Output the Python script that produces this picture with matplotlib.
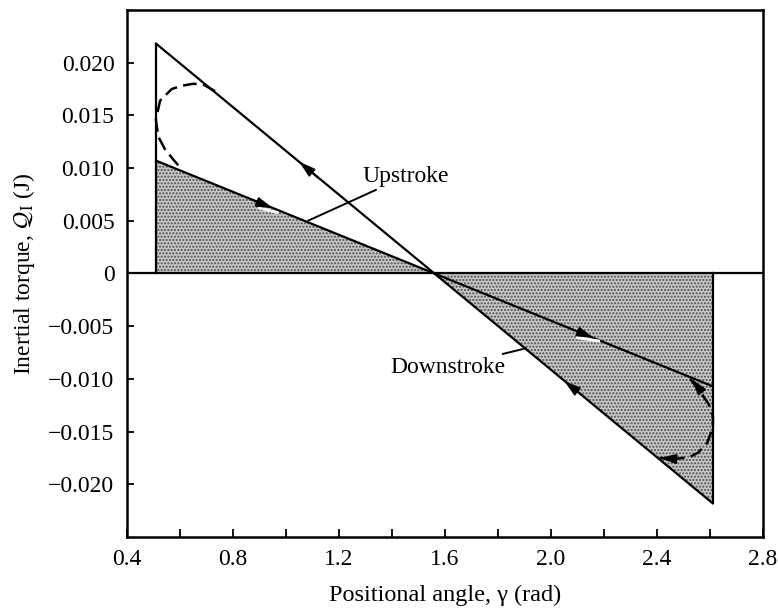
import matplotlib
matplotlib.use('Agg')
import matplotlib.pyplot as plt
from matplotlib.ticker import MultipleLocator, FuncFormatter, FixedLocator

plt.rcParams['font.family'] = ['Liberation Serif', 'DejaVu Serif']
plt.rcParams['mathtext.fontset'] = 'stix'
plt.rcParams['hatch.linewidth'] = 1.0

# end points of the stroke lines (rad, J)
gamma_ends = [0.51, 2.61]
steep_q = [0.0218, -0.0218]
shallow_q = [0.0107, -0.0107]

# shaded areas
shade_left_x = [0.51, 1.56]
shade_left_q = [0.0107, 0.0]
shade_right_x = [1.56, 2.61]
shade_right_q = [0.0, -0.0218]

# dashed turn-around loops
loop_left_x = [0.732, 0.69, 0.650, 0.605, 0.569, 0.525, 0.509, 0.518, 0.543, 0.575, 0.606]
loop_left_q = [0.0173, 0.0179, 0.0180, 0.0178, 0.0175, 0.0164, 0.0146, 0.0130, 0.0118, 0.0108, 0.0099]
loop_right_x = [2.525, 2.56, 2.595, 2.611, 2.611, 2.589, 2.555, 2.525, 2.47, 2.41]
loop_right_q = [-0.0100, -0.0111, -0.0124, -0.0135, -0.0146, -0.0161, -0.0170, -0.0174, -0.0176, -0.0175]

# arrow heads: tail -> tip
arrow_tail = [(1.12, 0.0091), (0.87, 0.0070), (2.08, -0.0053), (2.12, -0.0116), (2.565, -0.0111), (2.47, -0.0176)]
arrow_tip = [(1.05, 0.0106), (0.95, 0.0062), (2.16, -0.0061), (2.05, -0.0102), (2.53, -0.0100), (2.41, -0.0175)]

# small white marks under arrows
white_x = [[0.90, 0.965], [2.10, 2.18]]
white_q = [[0.0062, 0.0058], [-0.0061, -0.0064]]

y_ticks = [-0.020, -0.015, -0.010, -0.005, 0.0, 0.005, 0.010, 0.015, 0.020]

fig = plt.figure(figsize=(7.78, 6.08), dpi=100)
ax = fig.add_axes([0.1632, 0.1168, 0.8175, 0.8668])

for sx, sq in [(shade_left_x, shade_left_q), (shade_right_x, shade_right_q)]:
    ax.fill_between(sx, sq, 0, facecolor='#c8c8c8', edgecolor='#4a4a4a',
                    hatch='.....', linewidth=0, zorder=1)

ax.axhline(0, color='black', lw=1.6, zorder=3)
ax.plot(gamma_ends, steep_q, color='black', lw=1.6, zorder=3)
ax.plot(gamma_ends, shallow_q, color='black', lw=1.6, zorder=3)
ax.plot([gamma_ends[0], gamma_ends[0]], [0, steep_q[0]], color='black', lw=1.6, zorder=3)
ax.plot([gamma_ends[1], gamma_ends[1]], [0, steep_q[1]], color='black', lw=1.6, zorder=3)

ax.plot(loop_left_x, loop_left_q, color='black', lw=1.8, dashes=(5.5, 2.5), zorder=3)
ax.plot(loop_right_x, loop_right_q, color='black', lw=1.8, dashes=(5.5, 2.5), zorder=3)

for wx, wq in zip(white_x, white_q):
    ax.plot(wx, wq, color='white', lw=2.0, zorder=4)

for tail, tip in zip(arrow_tail, arrow_tip):
    ax.annotate('', xy=tip, xytext=tail,
                arrowprops=dict(arrowstyle='-|>,head_length=1.0,head_width=0.3',
                                color='black', lw=1.2, shrinkA=0, shrinkB=0),
                zorder=5)

ax.annotate('Upstroke', xy=(1.083, 0.0050), xytext=(1.287, 0.0082),
            fontsize=17, ha='left', va='bottom',
            arrowprops=dict(arrowstyle='-', color='black', lw=1.4, shrinkA=0, shrinkB=0))
ax.annotate('Downstroke', xy=(1.905, -0.0071), xytext=(1.83, -0.0079),
            fontsize=17, ha='right', va='top',
            arrowprops=dict(arrowstyle='-', color='black', lw=1.4, shrinkA=0, shrinkB=0))

ax.set_xlim(0.4, 2.8)
ax.set_ylim(-0.025, 0.025)
ax.xaxis.set_major_locator(MultipleLocator(0.4))
ax.xaxis.set_minor_locator(MultipleLocator(0.2))
ax.xaxis.set_major_formatter(FuncFormatter(lambda v, p: '%.1f' % v))
ax.yaxis.set_major_locator(FixedLocator(y_ticks))


def yfmt(v, p):
    if abs(v) < 1e-9:
        return '0'
    s = '%.3f' % abs(v)
    return ('\u2212' + s) if v < 0 else s


ax.yaxis.set_major_formatter(FuncFormatter(yfmt))
ax.tick_params(which='both', direction='in', length=6, width=1.3, labelsize=17, pad=9)
ax.tick_params(axis='y', which='both', length=5)
for s in ax.spines.values():
    s.set_linewidth(1.8)

ax.set_xlabel('Positional angle, \u03b3 (rad)', fontsize=17.5, labelpad=10)
ax.set_ylabel(r'Inertial torque, $\mathcal{Q}_{\rm I}$ (J)', fontsize=17, labelpad=8)

fig.savefig('out.png', dpi=100)
